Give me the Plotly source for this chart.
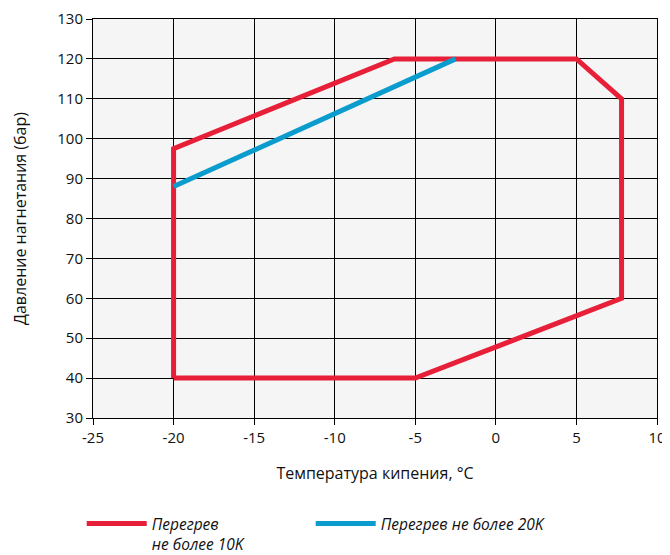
import plotly.graph_objects as go

# Data
red_name = "Перегрев<br>не более 10K"
red_x = [-20, -20, -6.3, 5, 7.8, 7.8, -5, -20]
red_y = [40, 97.5, 120, 120, 110, 60, 40, 40]

blue_name = "Перегрев не более 20K"
blue_x = [-20, -2.5]
blue_y = [88, 120]

x_ticks = [-25, -20, -15, -10, -5, 0, 5, 10]
y_ticks = [30, 40, 50, 60, 70, 80, 90, 100, 110, 120, 130]

RED = "#e81f38"
BLUE = "#0a9ccc"
FONT = "Open Sans"

fig = go.Figure()
fig.add_trace(go.Scatter(x=red_x, y=red_y, mode="lines", name=red_name, legend="legend",
                         line=dict(color=RED, width=5, shape="linear")))
fig.add_trace(go.Scatter(x=blue_x, y=blue_y, mode="lines", name=blue_name, legend="legend2",
                         line=dict(color=BLUE, width=5)))

legend_common = dict(orientation="h", xanchor="left", yanchor="top",
                     xref="paper", yref="container", valign="top",
                     font=dict(family=FONT, size=15.5, style="italic", color="#111"),
                     itemwidth=60, bgcolor="rgba(0,0,0,0)")

fig.update_layout(
    width=662, height=547,
    margin=dict(l=85, r=13, t=11, b=137),
    paper_bgcolor="white",
    plot_bgcolor="#f5f5f5",
    font=dict(family=FONT, size=15, color="#111"),
    xaxis=dict(range=[-25, 10], tickvals=x_ticks, ticktext=[str(v) for v in x_ticks],
               showgrid=True, gridcolor="black", gridwidth=1,
               showline=True, linecolor="black", linewidth=1, mirror=True,
               ticks="outside", ticklen=6, tickcolor="black",
               zeroline=False, automargin=False,
               title=dict(text="Температура кипения, °C", font=dict(size=16), standoff=21)),
    yaxis=dict(range=[30, 130], tickvals=y_ticks,
               showgrid=True, gridcolor="black", gridwidth=1,
               showline=True, linecolor="black", linewidth=1, mirror=True,
               ticks="outside", ticklen=6, tickcolor="black",
               zeroline=False, automargin=False,
               title=dict(text="Давление нагнетания (бар)", font=dict(size=16), standoff=26)),
    legend=dict(x=-0.02, y=0.0878, **legend_common),
    legend2=dict(x=0.386, y=0.0878, **legend_common),
    showlegend=True,
)

fig.write_html("out.html")
